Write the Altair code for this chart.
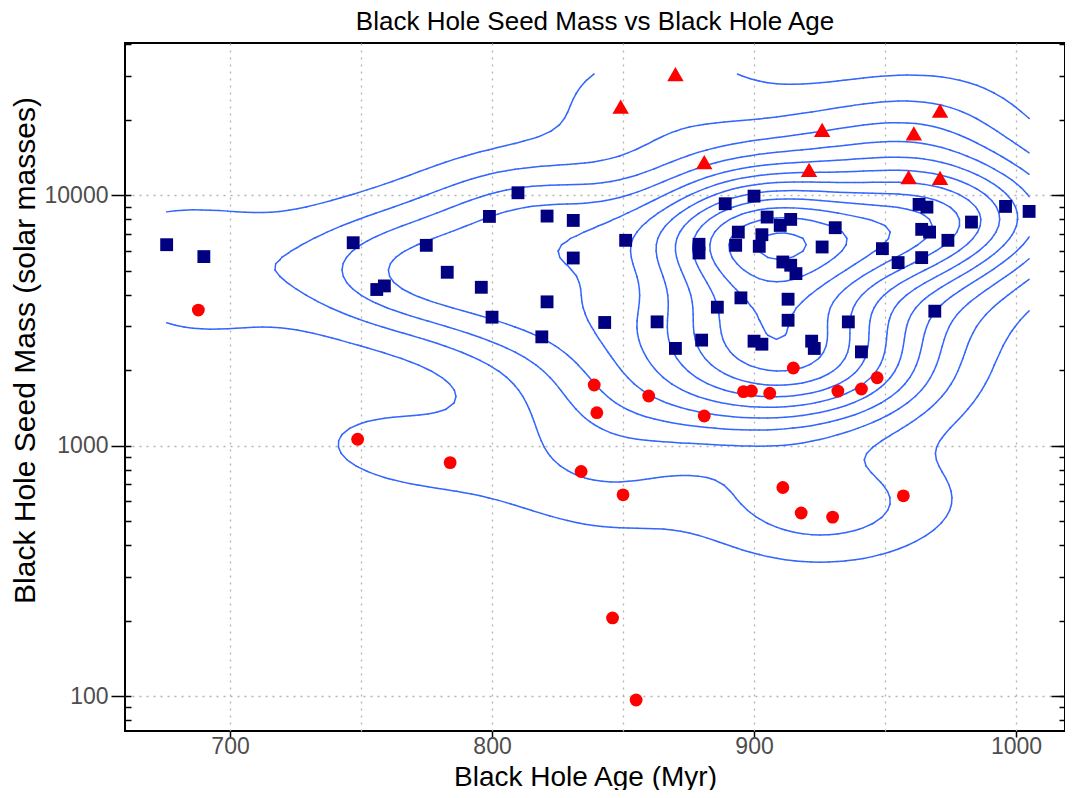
import numpy as np
import pandas as pd
import altair as alt

# ---------------- data ----------------
sq_age = [675.8, 690, 747, 756, 758.9, 774.9, 782.9, 795.9, 799, 809.9, 800, 821, 831, 831,
          821, 819, 851, 843, 863, 870, 880, 879, 879, 889, 900, 905, 914, 910, 894, 893,
          903, 902, 926, 931, 911, 914, 916, 895, 886, 913, 913, 900, 903, 922, 923, 936,
          941, 949, 955, 964, 964, 967, 974, 963, 966, 983, 996, 1005, 969]
sq_mass = [6340, 5683, 6456, 4199, 4340, 6303, 4920, 4286, 8223, 10220, 3256, 8249, 7925, 5610,
           3749, 2717, 6600, 3101, 3119, 2443, 2637, 6364, 5875, 9241, 9909, 8173, 8000, 7570, 7116, 6304,
           6950, 6246, 6208, 7412, 5408, 5250, 4860, 3889, 3569, 3841, 3165, 2612, 2540, 2612, 2442, 3118,
           2367, 6114, 5379, 5630, 7300, 7117, 6600, 9183, 8957, 7806, 9015, 8610, 3441]

ci_age = [687.9, 748.7, 784, 834, 839, 840, 846, 850, 855, 859.8, 881, 896, 899, 906, 911,
          915, 918, 930, 932, 941, 947, 957]
ci_mass = [3476, 1060, 855, 788, 1746, 1353, 205, 636, 96.4, 1578, 1313, 1642, 1652, 1618, 680,
           2040, 538, 518, 1650, 1683, 1866, 630]

tr_age = [870, 849.1, 926, 971, 961, 881, 921, 959, 971]
tr_mass = [30450, 22560, 18210, 21760, 17660, 13540, 12620, 11800, 11730]

x_tick_values = [700, 800, 900, 1000]
x_grid_values = [700, 750, 800, 850, 900, 950, 1000]
y_major_values = [100, 1000, 10000]
y_all_values = [80, 90, 100, 200, 300, 400, 500, 600, 700, 800, 900,
                1000, 2000, 3000, 4000, 5000, 6000, 7000, 8000, 9000,
                10000, 20000, 30000, 40000]

# ---------------- 2-D kernel density (kde2d style) on (age, log10 mass) ----------------
all_x = np.array(sq_age + ci_age + tr_age, float)
all_y = np.log10(np.array(sq_mass + ci_mass + tr_mass, float))


def bw_nrd(v):
    q1, q3 = np.quantile(v, [0.25, 0.75])
    return 4 * 1.06 * min(np.std(v, ddof=1), (q3 - q1) / 1.34) * len(v) ** (-0.2)


hx, hy = bw_nrd(all_x) / 4, bw_nrd(all_y) / 4
n = 100
gx = np.linspace(all_x.min(), all_x.max(), n)
gy = np.linspace(all_y.min(), all_y.max(), n)


def phi(u):
    return np.exp(-0.5 * u * u) / np.sqrt(2 * np.pi)


z = phi((gx[:, None] - all_x[None, :]) / hx) @ phi((gy[:, None] - all_y[None, :]) / hy).T
z = z / (len(all_x) * hx * hy)


def pretty(lo, hi, nb=10):
    cell = (hi - lo) / nb
    U = 10 ** np.floor(np.log10(cell))
    unit = U
    if 2 * U - cell < 1.5 * (cell - unit):
        unit = 2 * U
        if 5 * U - cell < 2.75 * (cell - unit):
            unit = 5 * U
            if 10 * U - cell < 1.5 * (cell - unit):
                unit = 10 * U
    ns = np.floor(lo / unit + 1e-7)
    nu = np.ceil(hi / unit - 1e-7)
    return np.arange(ns, nu + 1) * unit


levels = [L for L in pretty(z.min(), z.max()) if z.min() < L < z.max()]

segs = []


def cross(p1, p2, v1, v2, L):
    t = (L - v1) / (v2 - v1)
    return (p1[0] + t * (p2[0] - p1[0]), p1[1] + t * (p2[1] - p1[1]))


for L in levels:
    for i in range(n - 1):
        for j in range(n - 1):
            vA, vB, vC, vD = z[i, j], z[i + 1, j], z[i + 1, j + 1], z[i, j + 1]
            bA, bB, bC, bD = vA > L, vB > L, vC > L, vD > L
            if bA == bB == bC == bD:
                continue
            A = (gx[i], gy[j]); B = (gx[i + 1], gy[j]); C = (gx[i + 1], gy[j + 1]); D = (gx[i], gy[j + 1])
            e = {}
            if bA != bB: e[0] = cross(A, B, vA, vB, L)
            if bB != bC: e[1] = cross(B, C, vB, vC, L)
            if bC != bD: e[2] = cross(C, D, vC, vD, L)
            if bD != bA: e[3] = cross(D, A, vD, vA, L)
            if len(e) == 2:
                pairs = [tuple(e.keys())]
            else:
                center = (vA + vB + vC + vD) / 4 > L
                if bA == center:
                    pairs = [(0, 1), (2, 3)]
                else:
                    pairs = [(3, 0), (1, 2)]
            for a, b in pairs:
                p, q = e[a], e[b]
                segs.append({"x": p[0], "x2": q[0], "y": 10 ** p[1], "y2": 10 ** q[1], "level": L})

seg_df = pd.DataFrame(segs)
sq_df = pd.DataFrame({"age": sq_age, "mass": sq_mass})
ci_df = pd.DataFrame({"age": ci_age, "mass": ci_mass})
tr_df = pd.DataFrame({"age": tr_age, "mass": tr_mass})

# ---------------- scales & axes ----------------
FONT = "Liberation Sans"
xscale = alt.Scale(domain=[659.9, 1018.7], nice=False, zero=False)
yscale = alt.Scale(type="log", domain=[72.5, 40500], nice=False)
GRID = dict(gridColor="#b3b3b3", gridDash=[2, 5], gridWidth=1.3)

ax_bottom = alt.Axis(values=x_tick_values, orient="bottom", format="d", grid=False, domain=False,
                     tickSize=6, tickWidth=1.5, tickColor="black",
                     labelFont=FONT, labelFontSize=23, labelColor="#4d4d4d", labelPadding=-2,
                     titleFont=FONT, titleFontSize=28, titleFontWeight="normal", titleColor="black",
                     titleX=460, titleY=46, titleBaseline="middle", titleAlign="center")
ax_xgrid = alt.Axis(values=x_grid_values, orient="bottom", grid=True, ticks=False, labels=False,
                    domain=False, title=None, **GRID)
ax_left = alt.Axis(values=y_major_values, orient="left", format="d", grid=True, domain=False,
                   tickSize=14, tickWidth=1.5, tickColor="black",
                   labelFont=FONT, labelFontSize=23, labelColor="#4d4d4d", labelPadding=3,
                   titleFont=FONT, titleFontSize=30, titleFontWeight="normal", titleColor="black",
                   titleX=-100, titleY=307, titleBaseline="middle", titleAlign="center", **GRID)
ax_left_in = alt.Axis(values=y_all_values, orient="left", offset=-6, grid=False, labels=False,
                      domain=False, tickSize=6, tickWidth=1.5, tickColor="black", title=None)
ax_right_in = alt.Axis(values=y_all_values, orient="right", offset=-6, grid=False, labels=False,
                       domain=False, tickSize=6, tickWidth=1.5, tickColor="black", title=None)
ax_right_major = alt.Axis(values=y_major_values, orient="right", offset=-14, grid=False, labels=False,
                          domain=False, tickSize=14, tickWidth=1.5, tickColor="black", title=None)

contours = alt.Chart(seg_df).mark_rule(color="#3366FF", strokeWidth=1.5, strokeCap="round").encode(
    x=alt.X("x:Q", scale=xscale, axis=ax_bottom, title="Black Hole Age  (Myr)"),
    x2="x2:Q",
    y=alt.Y("y:Q", scale=yscale, axis=ax_left, title="Black Hole Seed Mass (solar masses)"),
    y2="y2:Q",
)

squares = alt.Chart(sq_df).mark_point(shape="square", filled=True, size=165, color="#000080",
                                      opacity=1).encode(
    x=alt.X("age:Q", scale=xscale, axis=ax_xgrid),
    y=alt.Y("mass:Q", scale=yscale, axis=ax_left_in),
)

circles = alt.Chart(ci_df).mark_point(shape="circle", filled=True, size=165, color="#FF0000",
                                      opacity=1).encode(
    x=alt.X("age:Q", scale=xscale, axis=None),
    y=alt.Y("mass:Q", scale=yscale, axis=ax_right_in),
)

triangles = alt.Chart(tr_df).mark_point(shape="triangle-up", filled=True, size=270, color="#FF0000",
                                        opacity=1).encode(
    x=alt.X("age:Q", scale=xscale, axis=None),
    y=alt.Y("mass:Q", scale=yscale, axis=ax_right_major),
)

chart = alt.layer(contours, squares, circles, triangles).resolve_axis(
    x="independent", y="independent"
).properties(
    width=940, height=688,
    title=alt.TitleParams("Black Hole Seed Mass vs Black Hole Age", font=FONT, fontSize=26,
                          fontWeight="normal", color="black", anchor="middle", offset=8),
    autosize=alt.AutoSizeParams(type="none"),
    padding={"left": 117, "top": 35, "right": 0, "bottom": 59},
).configure_view(stroke="black", strokeWidth=2)

chart.save("out.html", embed_options={"renderer": "svg", "actions": False})
